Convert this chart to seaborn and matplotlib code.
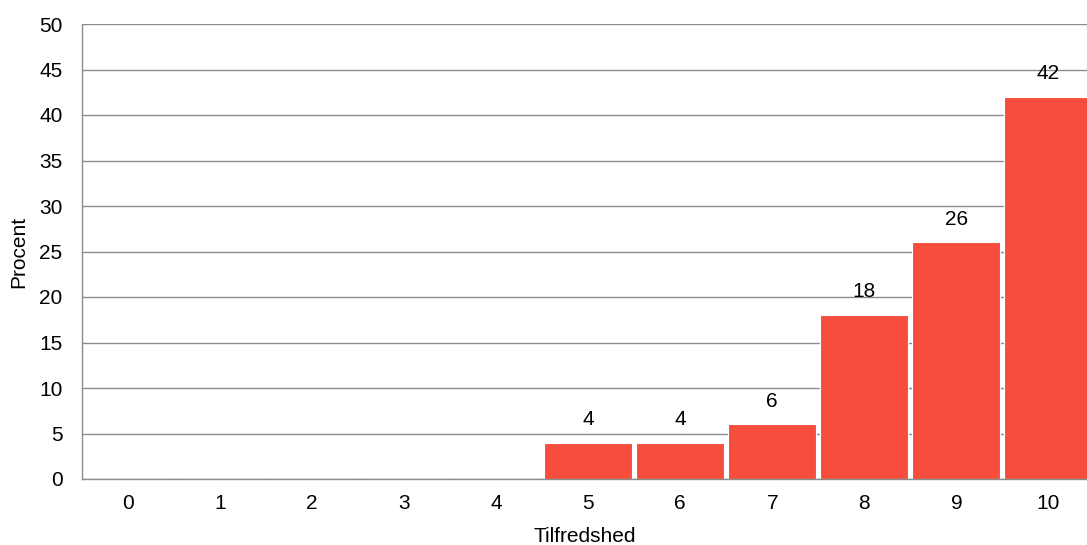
import seaborn as sns
import matplotlib.pyplot as plt
import pandas as pd

# satisfaction scores and share of respondents (percent)
scores = ["0", "1", "2", "3", "4", "5", "6", "7", "8", "9", "10"]
percent = [0, 0, 0, 0, 0, 4, 4, 6, 18, 26, 42]

df = pd.DataFrame({"Tilfredshed": scores, "Procent": percent})

sns.set_style("white")
plt.rcParams["font.family"] = ["Liberation Sans", "DejaVu Sans"]
plt.rcParams["text.color"] = "black"
plt.rcParams["xtick.color"] = "black"
plt.rcParams["ytick.color"] = "black"
plt.rcParams["axes.labelcolor"] = "black"

fig = plt.figure(figsize=(10.87, 5.45), dpi=100)
ax = fig.add_axes([82 / 1087, 66 / 545, 1005 / 1087, 455 / 545])

sns.barplot(data=df, x="Tilfredshed", y="Procent", order=scores,
            color="#F74D3D", saturation=1, width=0.96,
            edgecolor="white", linewidth=0.8, ax=ax)

labels = [str(v) if v > 0 else "" for v in percent]
ax.bar_label(ax.containers[0], labels=labels, padding=10, fontsize=15)

ax.set_ylim(0, 50)
ax.set_yticks(range(0, 51, 5))
ax.set_xlim(-0.5, 10.42)
ax.yaxis.grid(True, color="#8c8c8c", linewidth=1)
ax.set_axisbelow(True)
for side in ["top", "right"]:
    ax.spines[side].set_visible(False)
ax.spines["left"].set_color("#8c8c8c")
ax.spines["bottom"].set_color("#8c8c8c")
ax.spines["left"].set_linewidth(1)
ax.spines["bottom"].set_linewidth(1)
ax.tick_params(axis="both", length=0, labelsize=15)
ax.tick_params(axis="x", pad=11)
ax.tick_params(axis="y", pad=14)
ax.set_xlabel("Tilfredshed", fontsize=15, labelpad=10)
ax.set_ylabel("Procent", fontsize=15, labelpad=8)

fig.savefig("out.png", dpi=100)
